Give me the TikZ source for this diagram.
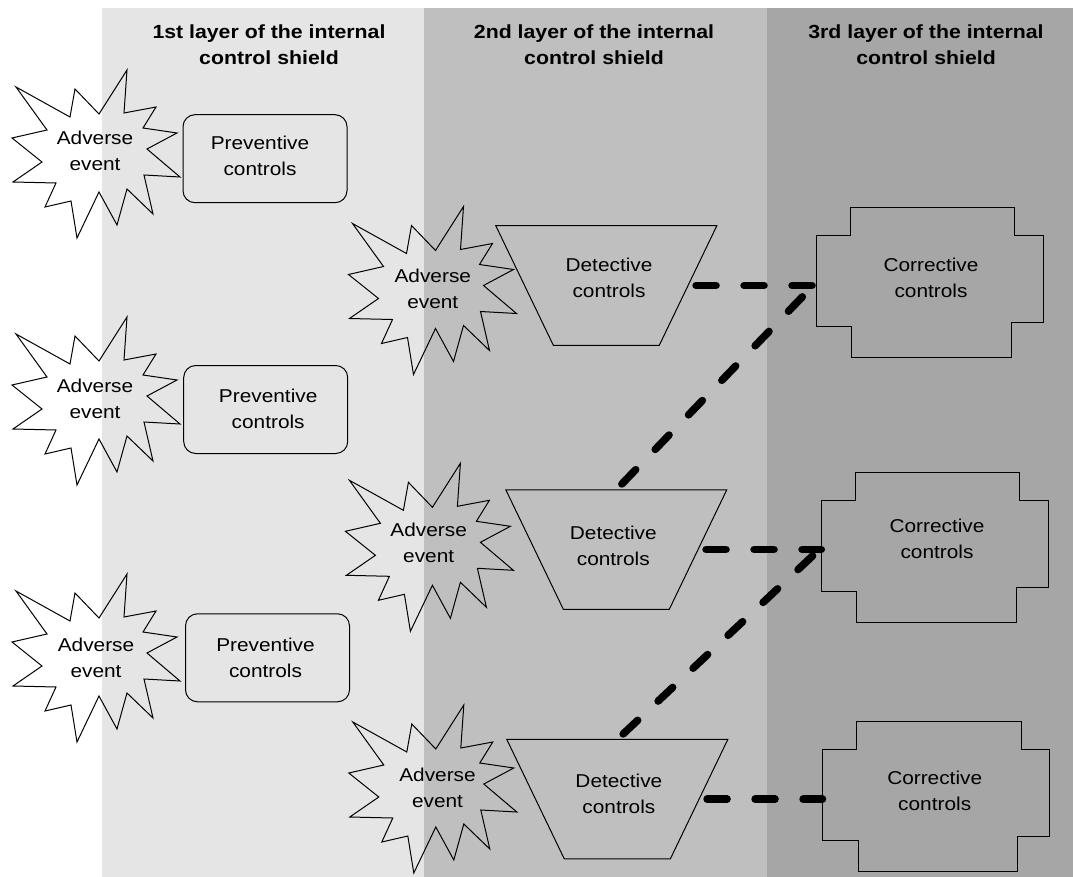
\documentclass[tikz,border=0pt]{standalone}
\usepackage{fontspec}
\setmainfont{Liberation Sans}[FakeStretch=1.12]
\usetikzlibrary{calc}
\definecolor{bandA}{RGB}{229,229,229}
\definecolor{bandB}{RGB}{191,191,191}
\definecolor{bandC}{RGB}{166,166,166}
\begin{document}
\begin{tikzpicture}[x=1pt,y=-1pt,
  txt/.style={font=\fontsize{18.6}{26}\selectfont, align=center, inner sep=0pt},
  head/.style={font=\bfseries\fontsize{19}{26}\selectfont, align=center, inner sep=0pt},
  outline/.style={draw=black, line width=1pt, line join=miter},
  frame/.style={inner sep=0pt, outer sep=0pt},
  pbox/.style={frame, draw=black, line width=1pt, rounded corners=12pt, minimum width=164, minimum height=88},
  link/.style={line width=7.5pt, line cap=round, dash pattern=on 20pt off 28pt, dash phase=40pt},
]
\useasboundingbox (0,0) rectangle (1073,877);
% bands
\fill[bandA] (102,8) rectangle (424,877);
\fill[bandB] (424,8) rectangle (767,877);
\fill[bandC] (767,8) rectangle (1073,877);

% headings
\node[head] (h1) at (269,45) {1st layer of the internal\\control shield};
\node[head] (h2) at (594,45) {2nd layer of the internal\\control shield};
\node[head] (h3) at (926,45) {3rd layer of the internal\\control shield};

% starbursts
\foreach \cx/\cy in {96/154, 96/401, 96/658, 432.5/290.5, 429.4/547.3, 432.8/789}
  \draw[outline, shift={(\cx,\cy)}]
    (-80,-67) -- (-26,-37) -- (-21,-65) -- (3,-40) -- (31,-84) -- (28,-41) --
    (60,-47) -- (47,-26) -- (81,-21) -- (51,-5) -- (84,23) -- (48,21) --
    (57,60) -- (31,35) -- (21,71) -- (3,38) -- (-19,84) -- (-25,47) --
    (-51,53) -- (-40,29) -- (-83,28) -- (-54,8) -- (-84,-16) -- (-49,-24) -- cycle;
\node[txt] (ae1) at (95,151) {Adverse\\event};
\node[txt] (ae2) at (95,398.7) {Adverse\\event};
\node[txt] (ae3) at (96,658.2) {Adverse\\event};
\node[txt] (ae4) at (432.8,288.9) {Adverse\\event};
\node[txt] (ae5) at (428.7,543.2) {Adverse\\event};
\node[txt] (ae6) at (437.5,787.9) {Adverse\\event};

% preventive controls
\node[pbox] (p1) at (265,158.7) {};
\node[pbox] (p2) at (265.7,409.5) {};
\node[pbox] (p3) at (267.5,657.8) {};
\node[txt] (pt1) at (260,155.7) {Preventive\\controls};
\node[txt] (pt2) at (268.2,409) {Preventive\\controls};
\node[txt] (pt3) at (265.5,657.4) {Preventive\\controls};

% detective controls (trapezoids)
\node[frame, minimum width=221, minimum height=119.5] (d1) at (606.3,285.5) {};
\node[frame, minimum width=221, minimum height=119.5] (d2) at (616.3,549.5) {};
\node[frame, minimum width=221, minimum height=119.5] (d3) at (617.3,799.2) {};
\foreach \n in {d1,d2,d3} {
  \draw[outline] (\n.north west) -- (\n.north east) -- ($(\n.south east)+(-57.5,0)$)
    -- ($(\n.south west)+(57.5,0)$) -- cycle;
  \coordinate (\n r) at ($(\n.east)+(-28.75,0)$);
}
\node[txt] (dt1) at (609,278.2) {Detective\\controls};
\node[txt] (dt2) at (613.3,546) {Detective\\controls};
\node[txt] (dt3) at (618.9,794) {Detective\\controls};

% corrective controls
\node[frame, minimum width=227, minimum height=150] (c1) at (929.5,282.7) {};
\node[frame, minimum width=227, minimum height=150] (c2) at (934.8,547.7) {};
\node[frame, minimum width=227, minimum height=150] (c3) at (936,796.7) {};
\foreach \n in {c1,c2,c3} {
  \draw[outline] ($(\n.north west)+(34,0)$) -- ($(\n.north west)+(198.5,0)$)
    -- ($(\n.north west)+(198.5,27.5)$) -- ($(\n.north west)+(227,27.5)$)
    -- ($(\n.north west)+(227,115)$) -- ($(\n.north west)+(195,115)$)
    -- ($(\n.north west)+(195,150)$) -- ($(\n.north west)+(35.5,150)$)
    -- ($(\n.north west)+(35.5,118.5)$) -- ($(\n.north west)+(0,118.5)$)
    -- ($(\n.north west)+(0,28)$) -- ($(\n.north west)+(34,28)$) -- cycle;
}
\node[txt] (ct1) at (931,278.2) {Corrective\\controls};
\node[txt] (ct2) at (937,539.2) {Corrective\\controls};
\node[txt] (ct3) at (934.7,791) {Corrective\\controls};

% dashed links
\draw[link] (d1r) -- (d1r -| c1.west);
\draw[link] (d2.north) -- (c1.west);
\draw[link] (d2r) -- (d2r -| c2.west);
\draw[link] (d3.north) -- (c2.west);
\draw[link] (d3r) -- (d3r -| c3.west);
\end{tikzpicture}
\end{document}
